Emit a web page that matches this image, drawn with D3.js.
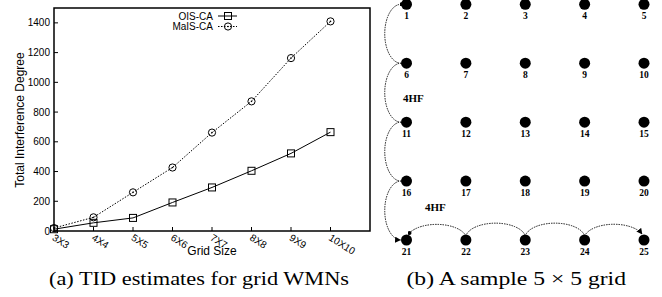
<!DOCTYPE html>
<html>
<head>
<meta charset="utf-8">
<script src="https://cdn.jsdelivr.net/npm/d3@7"></script>
<style>
  body { margin: 0; background: #fff; }
  svg { display: block; }
</style>
</head>
<body>
<svg width="662" height="297"></svg>
<script>
// chart (a) data
let gridSizes = ['3X3', '4X4', '5X5', '6X6', '7X7', '8X8', '9X9', '10X10'];
let oisCA = [12, 55, 88, 192, 293, 405, 522, 665];
let maisCA = [20, 92, 260, 427, 662, 872, 1163, 1410];
let yTicks = [0, 200, 400, 600, 800, 1000, 1200, 1400];

// chart (b) data
let gridCols = [1, 2, 3, 4, 5];
let gridRows = [1, 2, 3, 4, 5];
let downPath = [1, 6, 11, 16, 21];
let acrossPath = [21, 22, 23, 24, 25];

let svg = d3.select('svg');

let sans = 'Liberation Sans, Arial, sans-serif';
let serif = 'Liberation Serif, Times New Roman, serif';

// ---------- (a) line chart ----------
let x = d3.scalePoint().domain(gridSizes).range([54, 330.5]);
let y = d3.scaleLinear().domain([0, 1500]).range([231, 8]);

let a = svg.append('g');

// y ticks (inward) + labels
a.selectAll('.ytick')
  .data(yTicks)
  .enter().append('line')
    .attr('x1', 54).attr('x2', 58)
    .attr('y1', d => y(d)).attr('y2', d => y(d))
    .attr('stroke', '#000');

a.selectAll('.ylab')
  .data(yTicks)
  .enter().append('text')
    .attr('x', 50)
    .attr('y', d => y(d) + 3.5)
    .attr('text-anchor', 'end')
    .style('font-family', sans)
    .style('font-size', '10px')
    .text(d => d);

// x ticks + rotated labels
a.selectAll('.xtick')
  .data(gridSizes)
  .enter().append('line')
    .attr('x1', d => x(d)).attr('x2', d => x(d))
    .attr('y1', 231).attr('y2', 227)
    .attr('stroke', '#000');

a.selectAll('.xlab')
  .data(gridSizes)
  .enter().append('text')
    .attr('transform', d => 'translate(' + (x(d) - 2.5) + ',' + 239.5 + ')rotate(32)')
    .style('font-family', sans)
    .style('font-size', '10px')
    .text(d => d);

// series
let line = d3.line()
  .x((d, i) => x(gridSizes[i]))
  .y(d => y(d));

a.append('path')
  .attr('d', line(oisCA))
  .attr('fill', 'none')
  .attr('stroke', '#000')
  .attr('stroke-width', 1);

a.append('path')
  .attr('d', line(maisCA))
  .attr('fill', 'none')
  .attr('stroke', '#000')
  .attr('stroke-width', 1)
  .attr('stroke-dasharray', '1.5,1.5');

a.selectAll('.sq')
  .data(oisCA)
  .enter().append('rect')
    .attr('x', (d, i) => x(gridSizes[i]) - 3.5)
    .attr('y', d => y(d) - 3.5)
    .attr('width', 7).attr('height', 7)
    .attr('fill', 'none')
    .attr('stroke', '#000');

a.selectAll('.ci')
  .data(maisCA)
  .enter().append('circle')
    .attr('cx', (d, i) => x(gridSizes[i]))
    .attr('cy', d => y(d))
    .attr('r', 3.6)
    .attr('fill', 'none')
    .attr('stroke', '#000');

a.selectAll('.cd')
  .data(maisCA)
  .enter().append('circle')
    .attr('cx', (d, i) => x(gridSizes[i]))
    .attr('cy', d => y(d))
    .attr('r', 0.8)
    .attr('fill', '#000');

// frame
a.append('rect')
  .attr('x', 54).attr('y', 8)
  .attr('width', 316).attr('height', 223)
  .attr('fill', 'none')
  .attr('stroke', '#000')
  .attr('stroke-width', 1.5);

// legend
let legend = [
  { name: 'OIS-CA', dash: null, mark: 'sq' },
  { name: 'MaIS-CA', dash: '1.5,1.5', mark: 'ci' }
];
legend.forEach((l, i) => {
  let ly = 16 + i * 10.5;
  a.append('text')
    .attr('x', 213).attr('y', ly + 3.5)
    .attr('text-anchor', 'end')
    .style('font-family', sans)
    .style('font-size', '10px')
    .text(l.name);
  a.append('line')
    .attr('x1', 218).attr('x2', 237)
    .attr('y1', ly).attr('y2', ly)
    .attr('stroke', '#000')
    .attr('stroke-dasharray', l.dash);
  if (l.mark === 'sq') {
    a.append('rect')
      .attr('x', 224.5).attr('y', ly - 3.5)
      .attr('width', 7).attr('height', 7)
      .attr('fill', 'none').attr('stroke', '#000');
  } else {
    a.append('circle').attr('cx', 228).attr('cy', ly).attr('r', 3.6)
      .attr('fill', 'none').attr('stroke', '#000');
    a.append('circle').attr('cx', 228).attr('cy', ly).attr('r', 0.8)
      .attr('fill', '#000');
  }
});

// axis titles
a.append('text')
  .attr('transform', 'translate(24,120)rotate(-90)')
  .attr('text-anchor', 'middle')
  .style('font-family', sans)
  .style('font-size', '12px')
  .text('Total Interference Degree');

a.append('text')
  .attr('x', 212).attr('y', 255)
  .attr('text-anchor', 'middle')
  .style('font-family', sans)
  .style('font-size', '12px')
  .text('Grid Size');

a.append('text')
  .attr('x', 49).attr('y', 284.5)
  .attr('textLength', 300)
  .attr('lengthAdjust', 'spacingAndGlyphs')
  .style('font-family', serif)
  .style('font-size', '19.5px')
  .text('(a) TID estimates for grid WMNs');

// ---------- (b) grid ----------
let gx = d3.scalePoint().domain(gridCols).range([406.5, 644]);
let gy = d3.scalePoint().domain(gridRows).range([4.3, 240]);
let nodes = [];
gridRows.forEach(r => gridCols.forEach(c => nodes.push({ id: (r - 1) * 5 + c, r: r, c: c })));
let byId = {};
nodes.forEach(n => byId[n.id] = n);

let b = svg.append('g');

let defs = svg.append('defs');
defs.append('marker')
  .attr('id', 'arrow')
  .attr('viewBox', '0 0 10 10')
  .attr('refX', 9).attr('refY', 5)
  .attr('markerWidth', 6).attr('markerHeight', 6)
  .attr('markerUnits', 'userSpaceOnUse')
  .attr('orient', 'auto')
  .append('path').attr('d', 'M0,0L10,5L0,10z').attr('fill', '#000');
defs.append('marker')
  .attr('id', 'dot')
  .attr('viewBox', '0 0 10 10')
  .attr('refX', 5).attr('refY', 5)
  .attr('markerWidth', 4).attr('markerHeight', 4)
  .attr('markerUnits', 'userSpaceOnUse')
  .append('circle').attr('cx', 5).attr('cy', 5).attr('r', 5).attr('fill', '#000');

// vertical hops down the first column
d3.pairs(downPath).forEach(([s, t], i) => {
  let p0 = byId[s], p1 = byId[t];
  let x0 = gx(p0.c) - 5, y0 = gy(p0.r);
  let x1 = gx(p1.c) - 6, y1 = gy(p1.r);
  b.append('path')
    .attr('d', 'M' + x0 + ',' + y0 + 'A16,29 0 0 0 ' + x1 + ',' + y1)
    .attr('fill', 'none')
    .attr('stroke', '#000')
    .attr('stroke-width', 0.9)
    .attr('stroke-dasharray', '1.5,1')
    .attr('marker-start', i === 0 ? 'url(#dot)' : null)
    .attr('marker-end', i === downPath.length - 2 ? 'url(#arrow)' : null);
});

// horizontal hops along the last row
d3.pairs(acrossPath).forEach(([s, t], i) => {
  let p0 = byId[s], p1 = byId[t];
  let x0 = gx(p0.c) + (i === 0 ? 3 : 0), y0 = gy(p0.r) - (i === 0 ? 7 : 4);
  let x1 = gx(p1.c) - (i === acrossPath.length - 2 ? 2 : 0), y1 = gy(p1.r) - (i === acrossPath.length - 2 ? 6 : 4);
  b.append('path')
    .attr('d', 'M' + x0 + ',' + y0 + 'A30,15 0 0 1 ' + x1 + ',' + y1)
    .attr('fill', 'none')
    .attr('stroke', '#000')
    .attr('stroke-width', 0.9)
    .attr('stroke-dasharray', '1.5,1')
    .attr('marker-start', i === 0 ? 'url(#dot)' : null)
    .attr('marker-end', i === acrossPath.length - 2 ? 'url(#arrow)' : null);
});

b.selectAll('.node')
  .data(nodes)
  .enter().append('circle')
    .attr('cx', d => gx(d.c))
    .attr('cy', d => gy(d.r))
    .attr('r', 5.5)
    .attr('fill', '#000');

b.selectAll('.nlab')
  .data(nodes)
  .enter().append('text')
    .attr('x', d => gx(d.c))
    .attr('y', d => gy(d.r) + 14.5)
    .attr('text-anchor', 'middle')
    .style('font-family', serif)
    .style('font-weight', 'bold')
    .style('font-size', '9.5px')
    .text(d => d.id);

b.append('text')
  .attr('x', 403).attr('y', 102)
  .style('font-family', serif)
  .style('font-weight', 'bold')
  .style('font-size', '11px')
  .text('4HF');

b.append('text')
  .attr('x', 425).attr('y', 211)
  .style('font-family', serif)
  .style('font-weight', 'bold')
  .style('font-size', '11px')
  .text('4HF');

b.append('text')
  .attr('x', 406.5).attr('y', 284.5)
  .attr('textLength', 219.5)
  .attr('lengthAdjust', 'spacingAndGlyphs')
  .style('font-family', serif)
  .style('font-size', '19.5px')
  .text('(b) A sample 5 \u00d7 5 grid');
</script>
</body>
</html>
